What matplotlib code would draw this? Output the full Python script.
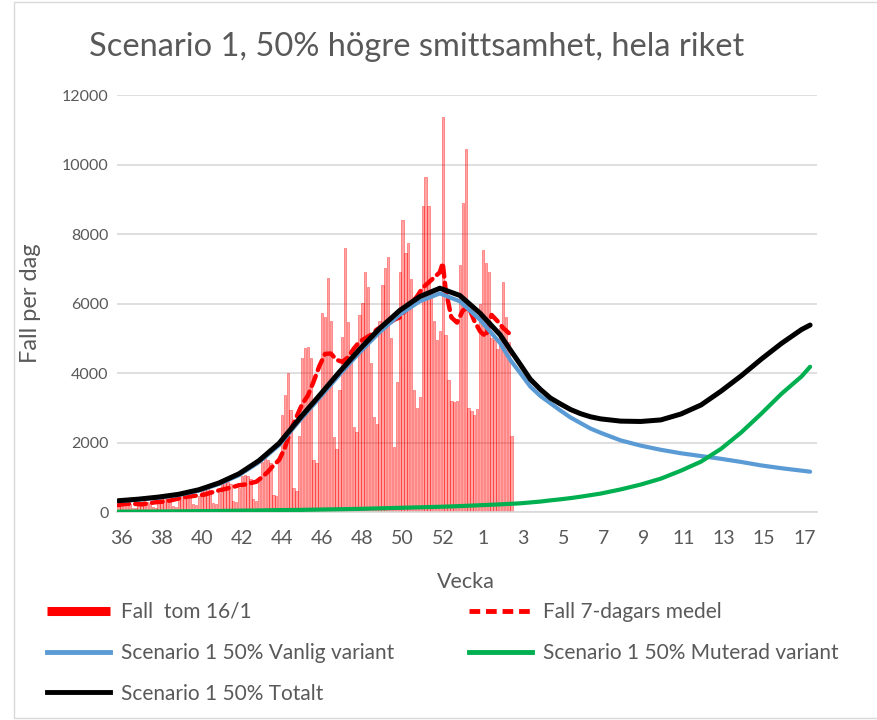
import numpy as np
import matplotlib
matplotlib.use("Agg")
import matplotlib.pyplot as plt
from matplotlib.lines import Line2D
from matplotlib.patches import Rectangle

plt.rcParams['font.family'] = ['Lato', 'DejaVu Sans']

# daily reported cases, day 0 = monday week 36 (2020)
cases = [170, 260, 250, 240, 230, 120, 110,          # v36
         190, 300, 310, 290, 270, 130, 120,          # v37
         260, 400, 410, 390, 370, 160, 150,          # v38
         380, 580, 600, 590, 540, 220, 190,          # v39
         450, 690, 720, 700, 640, 260, 240,          # v40
         560, 860, 900, 870, 800, 310, 280,          # v41
         680, 1050, 1070, 1040, 960, 360, 320,       # v42
         900, 1450, 1550, 1500, 1400, 500, 450,      # v43
         1500, 2800, 3370, 4000, 2940, 700, 600,     # v44
         2200, 4430, 4720, 4760, 4430, 1500, 1400,   # v45
         3300, 5730, 5600, 6740, 5500, 2150, 1800,   # v46
         3500, 5040, 7600, 5470, 4670, 2450, 2300,   # v47
         5670, 6020, 6910, 6480, 4300, 2740, 2530,   # v48
         5500, 6540, 7020, 7350, 5000, 1870, 3740,   # v49
         6900, 8400, 7450, 7750, 6700, 3500, 3000,   # v50
         3300, 8810, 9650, 8800, 6300, 5500, 4950,   # v51
         5200, 11380, 5100, 3800, 3200, 3170, 3200,  # v52
         7100, 8900, 10450, 3000, 2900, 2800, 2950,  # v53
         6000, 7550, 7170, 6900, 5000, 4950, 4700,   # v1
         5300, 6620, 5600, 4900, 2180]               # v2
case_days = np.arange(len(cases))

# 7-day mean, every second day
mean_days = [0, 2, 4, 6, 8, 10, 12, 14, 16, 18, 20, 22, 24, 26, 28, 30, 32, 34,
             36, 38, 40, 42, 44, 46, 48, 50, 52, 54, 56, 58, 60, 62, 64, 66, 68,
             70, 72, 74, 76, 78, 80, 82, 84, 86, 88, 90, 92, 94, 96, 98, 100,
             102, 104, 106, 108, 110, 112, 113, 114, 116, 118, 120, 122, 124,
             126, 128, 130, 132, 134, 136]
mean_vals = [200, 230, 240, 230, 220, 240, 270, 290, 300, 330, 370, 410, 440,
             460, 480, 500, 550, 600, 640, 680, 720, 770, 790, 830, 870, 1000,
             1150, 1340, 1500, 1850, 2350, 2730, 3100, 3350, 3750, 4200, 4550,
             4560, 4380, 4320, 4450, 4700, 4900, 5000, 5100, 5250, 5350, 5420,
             5530, 5600, 5800, 6000, 6200, 6450, 6600, 6750, 6900, 7170, 6400,
             5600, 5450, 5800, 5900, 5500, 5200, 5050, 5670, 5500, 5300, 5150]

# model scenario up to end of april (weekly, half-weekly around the turn)
model_days = [0, 7, 14, 21, 28, 35, 42, 49, 56, 63, 70, 77, 84, 91, 98, 105,
              112, 119, 126, 133, 136.5, 140, 143.5, 147, 150.5, 154, 157.5,
              161, 164.5, 168, 175, 182, 189, 196, 203, 210, 217, 224, 231,
              238, 241]
vanlig = [315, 360, 415, 490, 615, 805, 1060, 1435, 1925, 2620, 3280, 3950,
          4590, 5175, 5680, 6065, 6290, 6060, 5530, 4860, 4380, 4000, 3610,
          3340, 3130, 2920, 2720, 2560, 2400, 2280, 2060, 1910, 1790, 1690,
          1610, 1530, 1440, 1340, 1260, 1190, 1160]
muterad = [10, 12, 15, 20, 25, 30, 38, 45, 55, 60, 70, 80, 90, 105, 120, 135,
           150, 170, 195, 220, 235, 250, 275, 300, 335, 365, 400, 440, 485,
           530, 650, 790, 960, 1190, 1450, 1820, 2290, 2830, 3400, 3900, 4180]
totalt = [325, 370, 430, 510, 640, 835, 1100, 1480, 1980, 2680, 3350, 4030,
          4680, 5280, 5800, 6200, 6440, 6230, 5720, 5100, 4670, 4250, 3820,
          3530, 3280, 3110, 2950, 2830, 2740, 2680, 2615, 2605, 2650, 2820,
          3080, 3480, 3920, 4400, 4850, 5250, 5380]

week_labels = ['36', '38', '40', '42', '44', '46', '48', '50', '52',
               '1', '3', '5', '7', '9', '11', '13', '15', '17']

grey = '#595959'
fig = plt.figure(figsize=(8.78, 7.2), dpi=100)
ax = fig.add_axes([117 / 878, 208 / 720, 700 / 878, 417 / 720])

ax.bar(case_days, cases, width=0.8, color=(1, 0, 0, 0.36),
       edgecolor=(1, 0, 0, 0.5), linewidth=0.5, zorder=2)
ax.plot(mean_days, mean_vals, color='#ff0000', lw=3.2, dashes=(2.4, 1.4),
        dash_capstyle='round', zorder=3)
ax.plot(model_days, vanlig, color='#5b9bd5', lw=3.0, solid_capstyle='round', zorder=4)
ax.plot(model_days, muterad, color='#00b050', lw=3.0, solid_capstyle='round', zorder=4)
ax.plot(model_days, totalt, color='black', lw=3.6, solid_capstyle='round', zorder=5)

ax.set_xlim(-0.5, 243.4)
ax.set_ylim(0, 12000)
ax.set_yticks(np.arange(0, 12001, 2000))
ax.set_xticks(1 + 14 * np.arange(len(week_labels)))
ax.set_xticklabels(week_labels)
ax.grid(axis='y', color='#d9d9d9', lw=1.2, zorder=0)
ax.set_axisbelow(True)
for s in ['top', 'right', 'left']:
    ax.spines[s].set_visible(False)
ax.spines['bottom'].set_color('#d9d9d9')
ax.spines['bottom'].set_linewidth(1.2)
ax.tick_params(axis='both', length=0, colors=grey)
ax.tick_params(axis='y', labelsize=11.5, pad=6)
ax.tick_params(axis='x', labelsize=14, pad=13)

ax.set_xlabel('Vecka', fontsize=15.5, color=grey)
ax.xaxis.set_label_coords(0.4986, -0.145)
ax.set_ylabel('Fall per dag', fontsize=17, color=grey)
ax.yaxis.set_label_coords(-0.108, 0.5)

fig.text(417 / 878, 1 - 47 / 720, 'Scenario 1, 50% högre smittsamhet, hela riket',
         ha='center', va='center', fontsize=23.5, color=grey)

handles = [Line2D([], [], color='#ff0000', lw=6.5, solid_capstyle='butt'),
           Line2D([], [], color='#5b9bd5', lw=3.5),
           Line2D([], [], color='black', lw=3.5),
           Line2D([], [], color='#ff0000', lw=3.5, dashes=(2.2, 1.2)),
           Line2D([], [], color='#00b050', lw=3.5)]
labels = ['Fall  tom 16/1', 'Scenario 1 50% Vanlig variant', 'Scenario 1 50% Totalt',
          'Fall 7-dagars medel', 'Scenario 1 50% Muterad variant']
fig.legend(handles, labels, ncol=2, loc='upper left',
           bbox_to_anchor=(47 / 878, 1 - 602 / 720), frameon=False,
           fontsize=15, handlelength=3.0, handletextpad=0.55,
           columnspacing=3.6, labelspacing=1.0, borderpad=0, borderaxespad=0,
           labelcolor=grey)

# chart area border
fig.add_artist(Rectangle((14 / 878, 2 / 720), 1.0, 1 - 4 / 720,
                         transform=fig.transFigure, fill=False,
                         ec='#d9d9d9', lw=1.0))

fig.savefig('out.png', dpi=100)
